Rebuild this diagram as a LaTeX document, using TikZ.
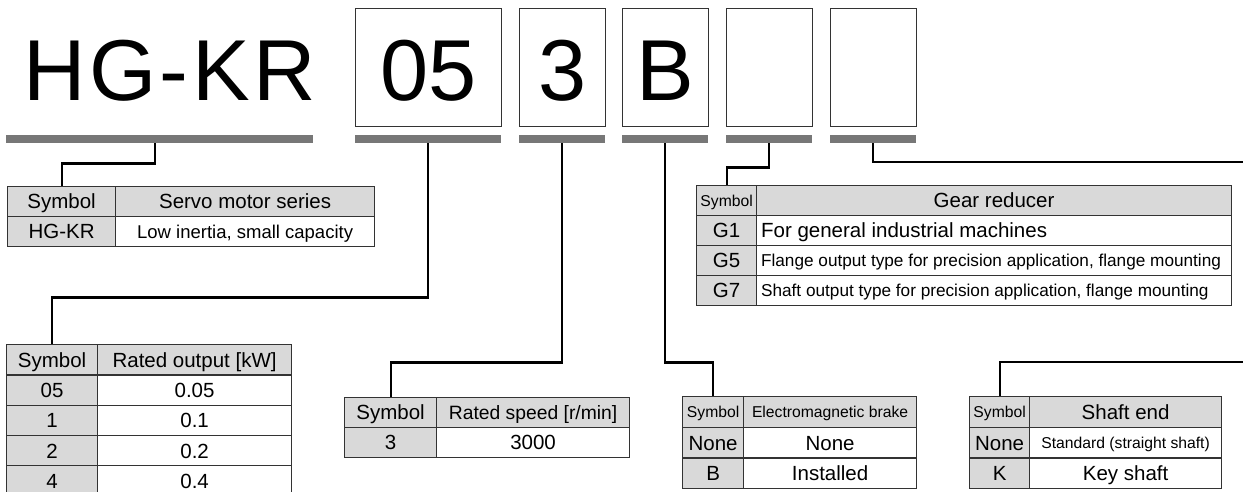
\documentclass[tikz,border=0pt]{standalone}
\usepackage{fontspec}
\setmainfont{Liberation Sans}
\usetikzlibrary{calc}
\definecolor{barc}{HTML}{777777}
\definecolor{hdrc}{HTML}{D9D9D9}
\definecolor{tblc}{HTML}{333333}
\newcommand\fsz[1]{\fontsize{#1}{#1}\selectfont}
\newcommand\lft[1]{\makebox[466pt][l]{#1}}
\begin{document}
\begin{tikzpicture}[x=1pt,y=-1pt,
  codebox/.style={draw=tblc, line width=1.3pt, minimum width=#1, minimum height=118pt,
    inner sep=0pt, anchor=north west, text height=66pt, text depth=0pt, font=\fsz{86.5}},
  codebar/.style={fill=barc, minimum width=#1, minimum height=8pt, inner sep=0pt, anchor=north west},
  cellbase/.style={draw=tblc, line width=1.2pt, inner sep=0pt, anchor=north west, minimum width=#1},
  hdr/.style={cellbase=#1, fill=hdrc},
  val/.style={cellbase=#1, fill=white},
  fnorm/.style={font=\fsz{20.5}, text height=14.7pt, text depth=0pt},
  fmid/.style={font=\fsz{19.3}, text height=13.8pt, text depth=0pt},
  fsmall/.style={font=\fsz{15.7}, text height=11.2pt, text depth=0pt},
  flong/.style={font=\fsz{17.2}, text height=12.3pt, text depth=0pt},
  fdesc/.style={font=\fsz{18.5}, text height=13.2pt, text depth=0pt},
  gleft/.style={inner xsep=4.5pt},
  conn/.style={line width=2.2pt, draw=black}
]
\path[use as bounding box, fill=white] (0,0) rectangle (1243,491);

% model code
\node[anchor=base west, inner sep=0pt, font=\fsz{86.5}\addfontfeature{LetterSpace=4}] (hgkr) at (23,100) {HG-KR};
\node[codebox=146pt] (box05) at (355,8) {05};
\node[codebox=86pt] (box3) at (519,8) {3};
\node[codebox=86pt] (boxB) at (622,8) {B};
\node[codebox=86pt] (boxE1) at (726,8) {};
\node[codebox=86pt] (boxE2) at (830,8) {};

% bars
\node[codebar=307pt] (barHG) at (6,135) {};
\node[codebar=146pt] (bar05) at (355,135) {};
\node[codebar=86pt] (bar3) at (519,135) {};
\node[codebar=86pt] (barB) at (622,135) {};
\node[codebar=86pt] (barE1) at (726,135) {};
\node[codebar=86pt] (barE2) at (830,135) {};

% Servo motor series table
\begin{scope}[every node/.append style={minimum height=30pt}]
\node[hdr=108pt, fnorm] (hgS) at (7,186) {Symbol};
\node[hdr=259pt, fnorm] (hgT) at (115,186) {Servo motor series};
\node[hdr=108pt, fnorm] (hgV) at (7,216) {HG-KR};
\node[val=259pt, fdesc] (hgD) at (115,216) {Low inertia, small capacity};
\end{scope}

% Rated output table
\begin{scope}[every node/.append style={minimum height=30.3pt}]
\node[hdr=91pt, fnorm] (kwS) at (6,344) {Symbol};
\node[hdr=194pt, fnorm] (kwT) at (97,344) {Rated output [kW]};
\node[hdr=91pt, fnorm] (kwS1) at (6,374.3) {05};
\node[val=194pt, fnorm] (kwV1) at (97,374.3) {0.05};
\node[hdr=91pt, fnorm] (kwS2) at (6,404.6) {1};
\node[val=194pt, fnorm] (kwV2) at (97,404.6) {0.1};
\node[hdr=91pt, fnorm] (kwS3) at (6,434.9) {2};
\node[val=194pt, fnorm] (kwV3) at (97,434.9) {0.2};
\node[hdr=91pt, fnorm] (kwS4) at (6,465.2) {4};
\node[val=194pt, fnorm] (kwV4) at (97,465.2) {0.4};
\end{scope}

% Rated speed table
\begin{scope}[every node/.append style={minimum height=30pt}]
\node[hdr=92pt, fnorm] (spS) at (344,397) {Symbol};
\node[hdr=193pt, fmid] (spT) at (436,397) {Rated speed [r/min]};
\node[hdr=92pt, fnorm] (spS1) at (344,427) {3};
\node[val=193pt, fnorm] (spV1) at (436,427) {3000};
\end{scope}

% Electromagnetic brake table
\begin{scope}[every node/.append style={minimum height=30.7pt}]
\node[hdr=61pt, fsmall] (brS) at (682,396) {Symbol};
\node[hdr=173pt, fsmall] (brT) at (743,396) {Electromagnetic brake};
\node[hdr=61pt, fnorm] (brS1) at (682,426.7) {None};
\node[val=173pt, fnorm] (brV1) at (743,426.7) {None};
\node[hdr=61pt, fnorm] (brS2) at (682,457.4) {B};
\node[val=173pt, fnorm] (brV2) at (743,457.4) {Installed};
\end{scope}

% Gear reducer table
\begin{scope}[every node/.append style={minimum height=30pt}]
\node[hdr=60pt, fsmall] (gS) at (696,185) {Symbol};
\node[hdr=475pt, fnorm] (gT) at (756,185) {Gear reducer};
\node[hdr=60pt, fnorm] (gS1) at (696,215) {G1};
\node[val=475pt, fnorm, gleft] (gV1) at (756,215) {\lft{For general industrial machines}};
\node[hdr=60pt, fnorm] (gS2) at (696,245) {G5};
\node[val=475pt, flong, gleft] (gV2) at (756,245) {\lft{Flange output type for precision application, flange mounting}};
\node[hdr=60pt, fnorm] (gS3) at (696,275) {G7};
\node[val=475pt, flong, gleft] (gV3) at (756,275) {\lft{Shaft output type for precision application, flange mounting}};
\end{scope}

% Shaft end table
\begin{scope}[every node/.append style={minimum height=30.7pt}]
\node[hdr=60pt, fsmall] (shS) at (969,396) {Symbol};
\node[hdr=192pt, fnorm] (shT) at (1029,396) {Shaft end};
\node[hdr=60pt, fnorm] (shS1) at (969,426.7) {None};
\node[val=192pt, fsmall] (shV1) at (1029,426.7) {Standard (straight shaft)};
\node[hdr=60pt, fnorm] (shS2) at (969,457.4) {K};
\node[val=192pt, fnorm] (shV2) at (1029,457.4) {Key shaft};
\end{scope}

% connectors
\coordinate (edgeTop) at (1246,162);
\coordinate (edgeBot) at (1246,362);
\draw[conn] ([xshift=-4.5pt]barHG.south) -- ++(0,20) -| (hgS.north);
\draw[conn] (bar05.south) -- ++(0,154) -| (kwS.north);
\draw[conn] (bar3.south) -- ++(0,219) -| (spS.north);
\draw[conn] (barB.south) -- ++(0,219) -| (brS.north);
\draw[conn] (barE1.south) -- ++(0,24) -| (gS.north);
\draw[conn] (barE2.south) |- (edgeTop);
\draw[conn] (edgeBot) -| (shS.north);
\end{tikzpicture}
\end{document}
